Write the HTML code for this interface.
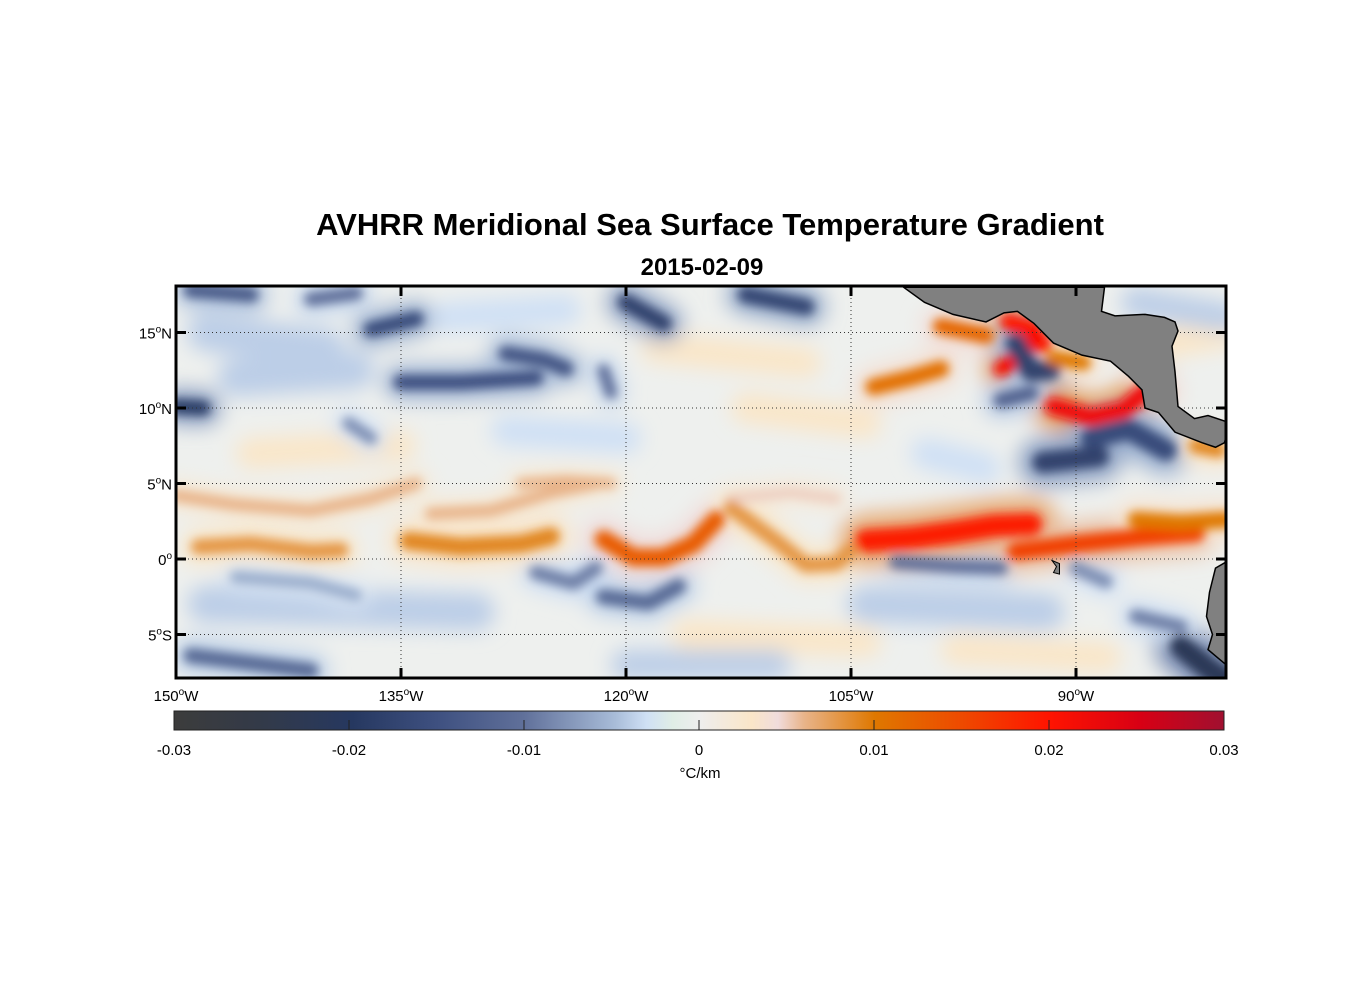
<!DOCTYPE html>
<html><head><meta charset="utf-8"><style>
body{margin:0;background:#fff;font-family:"Liberation Sans",Arial,sans-serif}
svg text{font-family:"Liberation Sans",Arial,sans-serif}
</style></head><body>
<svg id="chart" width="1356" height="1000" viewBox="0 0 1356 1000">
<defs>
<filter id="blur" x="-20%" y="-20%" width="140%" height="140%"><feGaussianBlur stdDeviation="5"/></filter>
<filter id="blur2" x="-20%" y="-20%" width="140%" height="140%"><feGaussianBlur stdDeviation="10"/></filter>
<clipPath id="mapclip"><rect x="176" y="286" width="1050" height="392"/></clipPath>
<linearGradient id="cbgrad" x1="0" x2="1" y1="0" y2="0">
<stop offset="0" stop-color="#3c3c3c"/><stop offset="0.08" stop-color="#333a48"/>
<stop offset="0.17" stop-color="#263860"/><stop offset="0.25" stop-color="#3e5080"/>
<stop offset="0.333" stop-color="#60709a"/><stop offset="0.42" stop-color="#a8bcd8"/>
<stop offset="0.45" stop-color="#cfe0f5"/><stop offset="0.475" stop-color="#e0eee6"/>
<stop offset="0.5" stop-color="#eeeeee"/><stop offset="0.55" stop-color="#fae6c8"/>
<stop offset="0.575" stop-color="#f0dcdc"/><stop offset="0.6" stop-color="#e8b48a"/>
<stop offset="0.667" stop-color="#df7800"/><stop offset="0.75" stop-color="#ee4a00"/>
<stop offset="0.833" stop-color="#ff1400"/><stop offset="0.92" stop-color="#d80014"/>
<stop offset="1" stop-color="#a01030"/>
</linearGradient>
</defs>
<text x="710" y="235" text-anchor="middle" font-size="31" font-weight="bold">AVHRR Meridional Sea Surface Temperature Gradient</text>
<text x="702" y="275" text-anchor="middle" font-size="24" font-weight="bold">2015-02-09</text>
<g clip-path="url(#mapclip)">
<rect x="176" y="286" width="1050" height="392" fill="#eef0ee"/>
<g id="soft" filter="url(#blur2)"></g>
<g id="field" filter="url(#blur)"></g>
<g id="grid"></g>
<polygon id="land1" fill="#808080" stroke="#000" stroke-width="1.5"/>
<polygon id="land2" fill="#808080" stroke="#000" stroke-width="1.5"/>
<polygon id="land3" fill="#808080" stroke="#000" stroke-width="1"/>
</g>
<rect x="176" y="286" width="1050" height="392" fill="none" stroke="#000" stroke-width="3"/>
<g id="axes"></g>
<rect x="174" y="711" width="1050" height="19" fill="url(#cbgrad)" stroke="#222" stroke-width="1"/>
<g id="cbticks"></g>
<text x="700" y="778" text-anchor="middle" font-size="15">°C/km</text>
</svg>
<script>
const lonTicks=[-150,-135,-120,-105,-90];
const latTicks=[15,10,5,0,-5];
const cbTicks=[-0.03,-0.02,-0.01,0,0.01,0.02,0.03];
const cbLabels=["-0.03","-0.02","-0.01","0","0.01","0.02","0.03"];
// features: [value, width(deg), lon,lat, lon,lat, ...]
const texture=[
[-0.004,2.5,-148,15,-140,14],[-0.004,2.5,-146,12,-138,12.5],[-0.003,2,-132,16,-124,16.5],
[0.003,2,-118,14,-108,13],[0.003,2,-112,10,-104,9],[-0.003,2,-128,8.5,-120,8],
[-0.004,2.5,-148,-3,-130,-3.5],[0.003,2,-116,-5,-104,-5.5],[-0.004,2.5,-104,-3,-92,-3.5],
[0.003,2,-145,7,-135,7.5],[-0.003,2,-100,7,-96,6],[0.003,2,-98,-6,-88,-6.5],
[-0.004,2,-120,-7,-110,-7],[0.003,2,-86,14,-80,15],[-0.004,2,-86,17,-80,16]];
const bandsEquator=[
[0.008,1.0,-148.5,0.8,-145,1.0,-141,0.5,-139,0.6],
[0.009,1.2,-134.5,1.2,-131,0.8,-127,1.0,-125,1.5],
[0.013,1.2,-121.5,1.3,-119.5,0.1,-117.5,0.1,-115.5,1.0,-114,2.6],
[0.008,1.0,-113,3.4,-111.5,2.3,-110,1.2,-108,-0.4,-106,-0.3,-105,0.6],
[0.019,1.5,-104,1.2,-101,1.4,-98,1.8,-95.5,2.2,-93,2.3],
[0.016,1.2,-94,0.5,-90,1.0,-86,1.4,-82,1.7],
[0.01,1.1,-86,2.6,-83,2.4,-80,2.6]];
const bandsNorthEq=[
[0.006,0.8,-150,4.2,-146,3.6,-141,3.2,-137,4.0,-134,5.0],
[0.006,0.8,-133,3.0,-129,3.2,-125,4.4,-122,5.0],
[0.006,0.7,-127,5.0,-124,5.2,-121,5.0],
[0.005,0.7,-113,4.0,-109,4.4,-106,4.0]];
const bandsBlue=[
[-0.011,1.0,-121.5,-2.5,-118.5,-2.9,-116.5,-1.8],
[-0.009,0.9,-126,-0.9,-123.5,-1.6,-122,-0.6],
[-0.006,0.8,-146,-1.2,-141,-1.6,-138,-2.4],
[-0.01,0.9,-102,-0.2,-98,-0.5,-95,-0.6],
[-0.008,0.9,-90,-0.6,-88,-1.5],
[-0.011,1.0,-149,-6.4,-145,-6.9,-141,-7.4],
[-0.022,1.5,-83,-5.8,-81,-7.4,-80,-8],
[-0.009,0.9,-86,-3.8,-83,-4.5]];
const bandsNorth=[
[-0.016,1.0,-137,15.2,-134,15.9],
[-0.015,1.0,-135,11.7,-131,11.7,-126,12.0],
[-0.014,1.0,-128,13.6,-125.5,13.2,-124,12.6],
[-0.018,1.1,-120,17.0,-117.5,15.6],
[-0.017,1.1,-112,17.5,-108,16.7],
[-0.013,1.0,-149,17.8,-145,17.5],
[-0.019,1.0,-150,10.1,-148.2,10.0],
[-0.01,0.8,-121,11.0,-121.5,12.5],
[-0.008,0.8,-138.5,9.0,-137,8.0],
[-0.01,0.9,-141,17.2,-138,17.6]];
const bandsCoastal=[
[0.012,1.1,-99,15.4,-96,14.8],
[0.02,1.1,-94.5,15.7,-93,15.3,-92.2,14.2],
[0.021,1.0,-95,12.6,-93.6,13.5,-92.8,14.8],
[-0.018,1.3,-94,14.3,-93,12.4,-91.7,12.5],
[0.011,1.1,-103.5,11.4,-101,12.0,-99,12.6],
[0.01,1.0,-91.5,13.3,-89.5,13.0],
[0.022,1.2,-91.5,10.1,-89,9.4,-86.8,9.9,-84.8,11.6],
[0.012,1.0,-85.6,12.9,-84.2,11.0],
[-0.016,1.4,-89,8.0,-86.5,8.6,-84,7.2],
[-0.018,1.4,-92.2,6.4,-88.5,6.8],
[-0.012,1.0,-95,10.5,-93,11.0],
[0.009,1.0,-82,7.5,-80.5,7.2]];
const landCA=[[-101.5,18],[-100.1,17],[-98.2,16.2],[-96,15.7],[-94.8,16.3],[-93.9,16.4],[-92.8,15.6],[-91.5,14.3],[-89.6,13.5],[-87.7,13.1],[-86.5,12.1],[-85.6,11.2],[-85.4,10.0],[-84.5,9.7],[-83.4,8.4],[-81.6,7.7],[-80.7,7.4],[-80.1,7.7],[-80,8.1],[-80,9.1],[-81.2,9.5],[-82.1,9.3],[-83.2,10.1],[-83.4,12.4],[-83.6,14.1],[-83.2,15.1],[-83.4,15.7],[-84.1,16.0],[-85.4,16.2],[-87.4,16.1],[-88.3,16.4],[-88.1,18]];
const landSA=[[-80,-0.2],[-80.7,-0.6],[-81.1,-2.2],[-81.3,-3.8],[-80.9,-5],[-81.2,-6],[-80.6,-6.5],[-80,-7]];
const landGal=[[-91.6,-0.1],[-91.1,-0.3],[-91.1,-1.0],[-91.5,-0.9],[-91.3,-0.5]];

const X=lon=>176+(lon+150)*15;
const Y=lat=>559-lat*15.1;
const CB=v=>174+(v+0.03)/0.06*1050;
const NS="http://www.w3.org/2000/svg";
const stops=[[-0.03,[60,60,60]],[-0.025,[51,58,72]],[-0.02,[38,56,96]],[-0.015,[62,80,128]],[-0.01,[96,112,154]],[-0.005,[168,188,216]],[-0.003,[207,224,245]],[0,[238,238,238]],[0.003,[250,230,200]],[0.0045,[240,220,220]],[0.006,[232,180,138]],[0.01,[223,120,0]],[0.015,[238,74,0]],[0.02,[255,20,0]],[0.025,[216,0,20]],[0.03,[160,16,48]]];
function cmap(v){v=Math.max(-0.03,Math.min(0.03,v));for(let i=0;i<stops.length-1;i++){const[a,ca]=stops[i],[b,cb]=stops[i+1];if(v<=b){const t=(v-a)/(b-a);return`rgb(${ca.map((c,k)=>Math.round(c+(cb[k]-c)*t)).join(',')})`;}}return'rgb(160,16,48)';}
function mk(tag,attrs,parent){const e=document.createElementNS(NS,tag);for(const k in attrs)e.setAttribute(k,attrs[k]);parent.appendChild(e);return e;}
const field=document.getElementById('field');
const soft=document.getElementById('soft');
function pathOf(f){let d='';for(let j=2;j<f.length;j+=2)d+=(j==2?'M':'L')+X(f[j])+','+Y(f[j+1]);return d;}
texture.forEach((f,i)=>{
 const p=mk('path',{d:pathOf(f),fill:'none',stroke:cmap(f[0]),'stroke-width':f[1]*15,'stroke-linecap':'round'},soft);
 
 });
function drawBands(arr,name){arr.forEach((f,i)=>{const v=f[0],w=f[1];const d=pathOf(f);
 const h=mk('path',{d:d,fill:'none',stroke:cmap(v*0.35),'stroke-width':w*15*2.4,'stroke-linecap':'round','stroke-linejoin':'round'},soft);
 
 
 const p=mk('path',{d:d,fill:'none',stroke:cmap(v),'stroke-width':w*15,'stroke-linecap':'round','stroke-linejoin':'round'},field);
 
 });}
drawBands(bandsNorthEq,'north-equatorial-front');
drawBands(bandsBlue,'south-negative-band');
drawBands(bandsNorth,'north-negative-band');
drawBands(bandsEquator,'equatorial-front');
drawBands(bandsCoastal,'coastal-feature');
const grid=document.getElementById('grid');
lonTicks.slice(1).forEach(l=>{const g=mk('line',{x1:X(l),x2:X(l),y1:286,y2:678,stroke:'#333','stroke-width':1,'stroke-dasharray':'1,3'},grid);

});
latTicks.forEach(l=>{const g=mk('line',{x1:176,x2:1226,y1:Y(l),y2:Y(l),stroke:'#333','stroke-width':1,'stroke-dasharray':'1,3'},grid);

});
const pts=a=>a.map(p=>X(p[0])+','+Y(p[1])).join(' ');
document.getElementById('land1').setAttribute('points',pts(landCA));
document.getElementById('land2').setAttribute('points',pts(landSA.concat([[-79,-8.5],[-79,0]])));
document.getElementById('land3').setAttribute('points',pts(landGal));
const axes=document.getElementById('axes');
lonTicks.forEach(l=>{
 const t=mk('line',{x1:X(l),x2:X(l),y1:286,y2:296,stroke:'#000','stroke-width':3},axes);
 
 
 const b=mk('line',{x1:X(l),x2:X(l),y1:668,y2:678,stroke:'#000','stroke-width':3},axes);
 
 
 const tx=mk('text',{x:X(l),y:701,'text-anchor':'middle','font-size':15},axes);
 tx.innerHTML=Math.abs(l)+'<tspan dy="-6" font-size="10">o</tspan><tspan dy="6">W</tspan>';
 
 });
latTicks.forEach(l=>{
 const t=mk('line',{x1:176,x2:186,y1:Y(l),y2:Y(l),stroke:'#000','stroke-width':3},axes);
 
 
 const r=mk('line',{x1:1216,x2:1226,y1:Y(l),y2:Y(l),stroke:'#000','stroke-width':3},axes);
 
 
 const tx=mk('text',{x:172,y:Y(l)+6,'text-anchor':'end','font-size':15},axes);
 tx.innerHTML=Math.abs(l)+'<tspan dy="-6" font-size="10">o</tspan><tspan dy="6">'+(l>0?'N':l<0?'S':'')+'</tspan>';
 
 });
const cbt=document.getElementById('cbticks');
cbTicks.forEach((v,i)=>{
 const t=mk('line',{x1:CB(v),x2:CB(v),y1:720,y2:730,stroke:'#222','stroke-width':1},cbt);
 
 
 const tx=mk('text',{x:CB(v),y:755,'text-anchor':'middle','font-size':15},cbt);
 tx.textContent=cbLabels[i];
 
 });
</script>
</body></html>
